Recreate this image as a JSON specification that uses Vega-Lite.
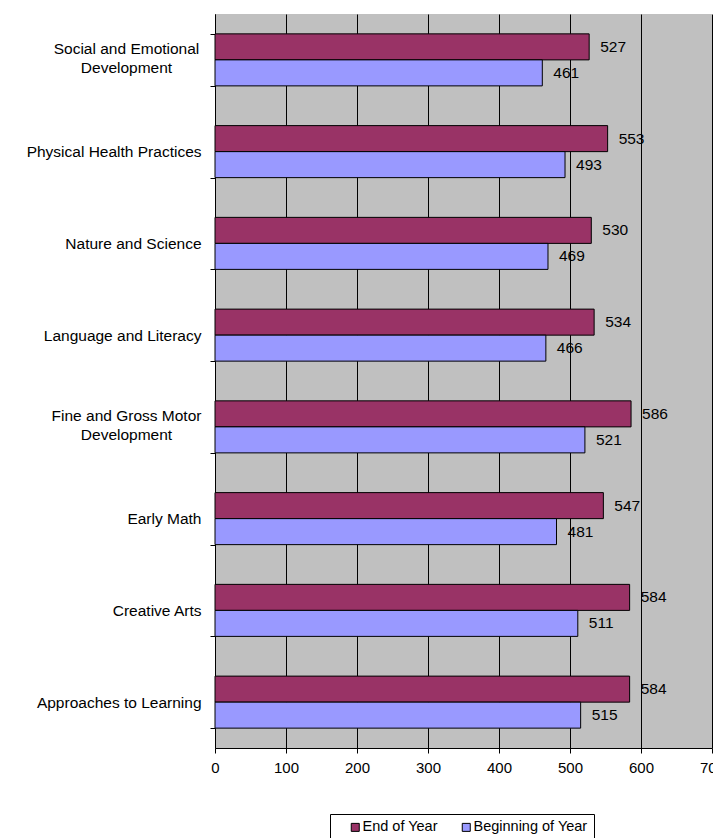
{
  "$schema": "https://vega.github.io/schema/vega-lite/v6.json",
  "width": 497,
  "height": 734,
  "autosize": {"type": "none"},
  "padding": {"left": 215, "top": 14, "right": 1, "bottom": 90},
  "background": "white",
  "config": {
    "font": "Liberation Sans",
    "view": {"fill": "#C0C0C0", "stroke": null}
  },
  "data": {
    "values": [
      {"domain": "Social and Emotional Development", "period": "End of Year", "score": 527},
      {"domain": "Social and Emotional Development", "period": "Beginning of Year", "score": 461},
      {"domain": "Physical Health Practices", "period": "End of Year", "score": 553},
      {"domain": "Physical Health Practices", "period": "Beginning of Year", "score": 493},
      {"domain": "Nature and Science", "period": "End of Year", "score": 530},
      {"domain": "Nature and Science", "period": "Beginning of Year", "score": 469},
      {"domain": "Language and Literacy", "period": "End of Year", "score": 534},
      {"domain": "Language and Literacy", "period": "Beginning of Year", "score": 466},
      {"domain": "Fine and Gross Motor Development", "period": "End of Year", "score": 586},
      {"domain": "Fine and Gross Motor Development", "period": "Beginning of Year", "score": 521},
      {"domain": "Early Math", "period": "End of Year", "score": 547},
      {"domain": "Early Math", "period": "Beginning of Year", "score": 481},
      {"domain": "Creative Arts", "period": "End of Year", "score": 584},
      {"domain": "Creative Arts", "period": "Beginning of Year", "score": 511},
      {"domain": "Approaches to Learning", "period": "End of Year", "score": 584},
      {"domain": "Approaches to Learning", "period": "Beginning of Year", "score": 515}
    ]
  },
  "encoding": {
    "y": {
      "field": "domain",
      "type": "nominal",
      "sort": null,
      "scale": {"paddingInner": 0.433, "paddingOuter": 0.2165},
      "axis": {
        "title": null,
        "domainColor": "black",
        "tickColor": "black",
        "tickSize": 5,
        "tickBand": "extent",
        "labelFontSize": 15.5,
        "labelColor": "black",
        "labelLineHeight": 19,
        "labelLimit": 300,
        "labelExpr": "datum.value == 'Social and Emotional Development' ? ['Social and Emotional', 'Development'] : datum.value == 'Fine and Gross Motor Development' ? ['Fine and Gross Motor', 'Development'] : datum.value",
        "labelAlign": {
          "condition": {"test": "datum.value == 'Social and Emotional Development' || datum.value == 'Fine and Gross Motor Development'", "value": "center"},
          "value": "right"
        },
        "labelPadding": {
          "condition": {"test": "datum.value == 'Social and Emotional Development' || datum.value == 'Fine and Gross Motor Development'", "value": 84},
          "value": 9
        },
        "labelOffset": {
          "condition": {"test": "datum.value == 'Social and Emotional Development' || datum.value == 'Fine and Gross Motor Development'", "value": -11},
          "value": 0
        }
      }
    },
    "yOffset": {"field": "period", "type": "nominal", "sort": ["End of Year", "Beginning of Year"]},
    "x": {
      "field": "score",
      "type": "quantitative",
      "scale": {"domain": [0, 700], "nice": false},
      "axis": {
        "title": null,
        "values": [0, 100, 200, 300, 400, 500, 600, 700],
        "grid": true,
        "gridColor": "black",
        "gridOpacity": 1,
        "gridWidth": 1,
        "domainColor": "black",
        "tickColor": "black",
        "tickSize": 5,
        "labelFontSize": 15,
        "labelColor": "black",
        "labelPadding": 7,
        "labelFlush": false,
        "labelOverlap": false
      }
    }
  },
  "layer": [
    {
      "mark": {"type": "bar", "stroke": "black", "strokeWidth": 1},
      "encoding": {
        "color": {
          "field": "period",
          "type": "nominal",
          "sort": ["End of Year", "Beginning of Year"],
          "scale": {"domain": ["End of Year", "Beginning of Year"], "range": ["#993366", "#9999FF"]},
          "legend": {
            "title": null,
            "orient": "none",
            "direction": "horizontal",
            "legendX": 115,
            "legendY": 800,
            "strokeColor": "black",
            "fillColor": "white",
            "padding": 6,
            "symbolType": "square",
            "symbolSize": 64,
            "symbolStrokeColor": "black",
            "symbolStrokeWidth": 1,
            "symbolOffset": 12,
            "labelFontSize": 14.5,
            "labelColor": "black",
            "labelOffset": 0,
            "columnPadding": 9
          }
        }
      }
    },
    {
      "mark": {"type": "text", "align": "left", "baseline": "middle", "dx": 11, "fontSize": 15.5, "color": "black"},
      "encoding": {
        "text": {"field": "score", "type": "quantitative"}
      }
    }
  ]
}
